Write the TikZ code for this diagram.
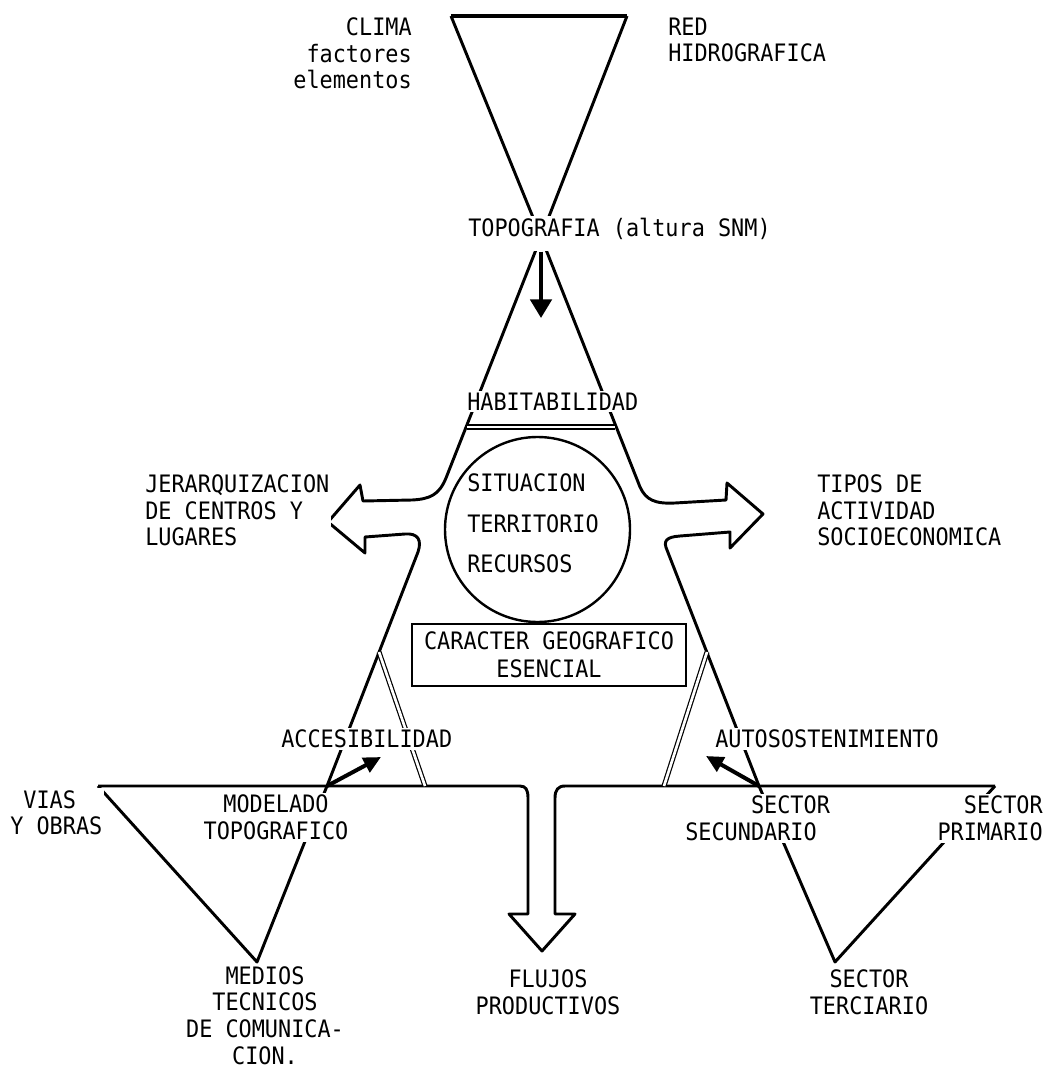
\documentclass[tikz,border=0pt]{standalone}
\usepackage{fontspec}
\usetikzlibrary{arrows.meta}
\newfontfamily\maq[FakeStretch=0.91]{DejaVu Sans Mono}

\begin{document}
\begin{tikzpicture}[x=0.75pt,y=0.75pt,yscale=-1,xscale=1,
  linea/.style={line width=2.2pt, line join=round},
  doble/.style={double, line width=0.9pt, double distance=2pt},
  texto/.style={font=\fontsize{18}{20}\selectfont\maq, fill=white, inner sep=1.5pt},
  flecha/.style={line width=3pt, -{Triangle[width=12pt,length=13pt]}}]
\useasboundingbox (0,0) rectangle (1049,1070);

% Coordinates
\coordinate (apex) at (541,237);
\coordinate (vizq) at (327,786);
\coordinate (vder) at (759,786);

%Shape: top triangle
\draw [line width=3pt] (451,16) -- (627,16);
\draw [linea] (451,16) -- (apex) -- (627,16);
%Shape: central figure, left arrow
\draw [linea] (apex) -- (446,478) .. controls (439,495) and (430,499) .. (412,500) -- (363,501) -- (360,485) -- (328,522) -- (365,553) -- (365,537) -- (405,534) .. controls (418,533) and (422,540) .. (418,552) -- (vizq);
%Shape: central figure, right arrow
\draw [linea] (apex) -- (640,487) .. controls (646,500) and (655,504) .. (675,503) -- (726,500) -- (727,483) -- (763,514) -- (730,548) -- (730,532) -- (680,536) .. controls (666,537) and (663,541) .. (667,550) -- (vder);
%Shape: base line and down arrow
\draw [linea] (98,786) -- (520,786) .. controls (526,786) and (528,790) .. (528,798) -- (528,914) -- (509,914) -- (542,951) -- (575,914) -- (555,914) -- (555,798) .. controls (555,790) and (558,786) .. (565,786) -- (995,786);
%Shape: lower triangles
\draw [linea] (98,786) -- (257,962) -- (vizq);
\draw [linea] (vder) -- (835,962) -- (995,786);
%Double lines
\draw [doble] (467,427) -- (615,427);
\draw [doble] (379,652) -- (425,786);
\draw [doble] (707,652) -- (664,786);

%Circle and box
\node [draw, circle, line width=1.8pt, minimum size=138.75pt, inner sep=0pt] (nucleo) at (537.5,529.5) {};
\node [texto, draw, line width=1.6pt, align=center, minimum width=205.5pt, minimum height=47pt, font=\fontsize{18}{21}\selectfont\maq] (caracter) at (549,655) {CARACTER GEOGRAFICO\\ESENCIAL};

% Text Node
\node [texto, anchor=north east, align=right] (clima) at (414,15.5) {CLIMA\\factores\\elementos};
% Text Node
\node [texto, anchor=north west, align=left] (red) at (666,15.5) {RED\\HIDROGRAFICA};
% Text Node
\node [texto, anchor=north west, text depth=10pt] (topo) at (466,215.5) {TOPOGRAFIA (altura SNM)};
% Text Node
\node [texto, anchor=north west] (habit) at (465,390.5) {HABITABILIDAD};
% Text Node
\node [texto, anchor=north west, align=left] (jerarq) at (143,472.5) {JERARQUIZACION\\DE CENTROS Y\\LUGARES};
% Text Node
\node [texto, anchor=north west, align=left] (tipos) at (815,472.5) {TIPOS DE\\ACTIVIDAD\\SOCIOECONOMICA};
% Text Node
\node [texto, anchor=north west, align=left, fill=none, font=\fontsize{18}{30.4}\selectfont\maq] (nucleotxt) at (465,471.5) {SITUACION\\TERRITORIO\\RECURSOS};
% Text Node
\node [texto, anchor=north west] (acces) at (279,727.5) {ACCESIBILIDAD};
% Text Node
\node [texto, anchor=north west] (autos) at (713,727.5) {AUTOSOSTENIMIENTO};
% Text Node
\node [texto, anchor=north west, align=left] (vias) at (8,788) {\phantom{Y}VIAS\\Y OBRAS};
% Text Node
\node [texto, anchor=north, align=center] (modelado) at (276,792.5) {MODELADO\\TOPOGRAFICO};
% Text Node
\node [texto, anchor=north, align=center] (medios) at (265,964) {MEDIOS\\TECNICOS\\DE COMUNICA-\\CION.};
% Text Node
\node [texto, anchor=north, align=center] (flujos) at (548,967.5) {FLUJOS\\PRODUCTIVOS};
% Text Node
\node [texto, anchor=north west, align=left] (secund) at (683,793.5) {\phantom{SECTO}SECTOR\\SECUNDARIO};
% Text Node
\node [texto, anchor=north east, align=right] (primario) at (1045,793.5) {SECTOR\\PRIMARIO};
% Text Node
\node [texto, anchor=north, align=center] (terciario) at (869,967.5) {SECTOR\\TERCIARIO};

%Arrows
\coordinate (punta) at (541,318);
\draw [flecha, -{Triangle[width=16pt,length=14pt]}] (apex |- topo.south) -- (punta);
\coordinate (accpunta) at (381,757);
\draw [flecha] (vizq) -- (accpunta);
\coordinate (autopunta) at (706,756);
\draw [flecha] (vder) -- (autopunta);

\end{tikzpicture}
\end{document}
